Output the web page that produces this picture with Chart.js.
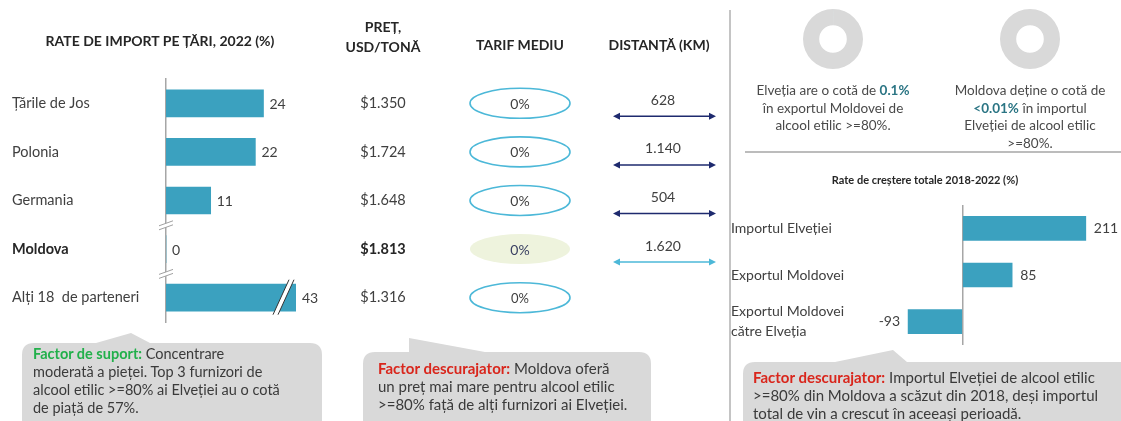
<!DOCTYPE html>
<html><head><meta charset="utf-8">
<script src="https://cdn.jsdelivr.net/npm/chart.js@4.4.0/dist/chart.umd.min.js"></script>
<style>
body{margin:0;background:#fff;}
#wrap{position:relative;width:1121px;height:421px;overflow:hidden;font-family:Lato,"Open Sans",sans-serif;color:#404040;}
canvas{position:absolute;}
.hdr{position:absolute;font-weight:bold;font-size:14px;color:#262626;text-align:center;white-space:nowrap;transform:translateX(-50%);line-height:20px;}
.txt{position:absolute;font-size:13.5px;color:#4a4a4a;text-align:center;white-space:nowrap;transform:translateX(-50%);line-height:17.5px;}
.txt b{color:#2b7584;}
.call{position:absolute;font-size:14px;color:#3a3a3a;white-space:nowrap;line-height:18px;}
.g{color:#22b04b;font-weight:bold;}
.r{color:#d9261c;font-weight:bold;}
</style></head>
<body>
<div id="wrap">
<svg width="1121" height="421" style="position:absolute;left:0;top:0">
  <line x1="730" y1="10" x2="730" y2="421" stroke="#c4c4c4" stroke-width="2"/>
  <line x1="745" y1="152" x2="1121" y2="152" stroke="#a6a6a6" stroke-width="1.5"/>
  <path d="M34 343 L96 343 L131 333 L150 343 L310 343 Q322 343 322 355 L322 430 L22 430 L22 355 Q22 343 34 343 Z" fill="#d9d9d9"/>
  <path d="M375 352 L409 352 L409 338 L485 352 L639 352 Q651 352 651 364 L651 430 L363 430 L363 364 Q363 352 375 352 Z" fill="#d9d9d9"/>
  <path d="M755 362 L835 362 L893 350 L907 362 L1121 362 L1121 430 L743 430 L743 374 Q743 362 755 362 Z" fill="#d9d9d9"/>
</svg>
<canvas id="left" width="730" height="421" style="left:0;top:0"></canvas>
<canvas id="right" width="391" height="421" style="left:730px;top:0"></canvas>
<canvas id="d1" width="60" height="60" style="left:803px;top:9px"></canvas>
<canvas id="d2" width="60" height="60" style="left:1000px;top:9px"></canvas>

<div class="hdr" style="left:160px;top:31px">RATE DE IMPORT PE ȚĂRI, 2022 (%)</div>
<div class="hdr" style="left:383px;top:17px">PREȚ,<br>USD/TONĂ</div>
<div class="hdr" style="left:520px;top:35px">TARIF MEDIU</div>
<div class="hdr" style="left:659px;top:35px">DISTANȚĂ (KM)</div>

<div class="txt" style="left:833px;top:82px">Elveția are o cotă de <b>0.1%</b><br>în exportul Moldovei de<br>alcool etilic &gt;=80%.</div>
<div class="txt" style="left:1030px;top:82px">Moldova deține o cotă de<br><b>&lt;0.01%</b> în importul<br>Elveției de alcool etilic<br>&gt;=80%.</div>
<div class="hdr" style="left:925px;top:170px;font-size:11px">Rate de creștere totale 2018-2022 (%)</div>

<div class="call" style="left:33px;top:345px;font-size:14.5px"><span class="g">Factor de suport:</span> Concentrare<br>moderată a pieței. Top 3 furnizori de<br>alcool etilic &gt;=80% ai Elveției au o cotă<br>de piață de 57%.</div>
<div class="call" style="left:378px;top:359px;font-size:15px"><span class="r">Factor descurajator:</span> Moldova oferă<br>un preț mai mare pentru alcool etilic<br>&gt;=80% față de alți furnizori ai Elveției.</div>
<div class="call" style="left:753px;top:368px;font-size:15px"><span class="r">Factor descurajator:</span> Importul Elveției de alcool etilic<br>&gt;=80% din Moldova a scăzut din 2018, deși importul<br>total de vin a crescut în aceeași perioadă.</div>
</div>

<script>
// ---- data ----
const countries = ['Țările de Jos', 'Polonia', 'Germania', 'Moldova', 'Alți 18  de parteneri'];
const importShare = [24, 22, 11, 0, 43];
const prices = ['$1.350', '$1.724', '$1.648', '$1.813', '$1.316'];
const tariffs = ['0%', '0%', '0%', '0%', '0%'];
const distances = ['628', '1.140', '504', '1.620', null];
const growthLabels = [['Importul Elveției'], ['Exportul Moldovei'], ['Exportul Moldovei', 'către Elveția']];
const growthValues = [211, 85, -93];
const shareCH = [0.1, 99.9];
const shareMD = [0.01, 99.99];

const FONT = 'Lato';
const HL = 3; // Moldova row
const BAR = '#3ba1bf';
const axisBreaks = [2.5, 3.5];

const leftExtras = {
  id: 'leftExtras',
  afterDatasetsDraw(chart) {
    const {ctx, chartArea, scales: {y}} = chart;
    const meta = chart.getDatasetMeta(0);
    ctx.save();
    ctx.textBaseline = 'middle';
    ctx.font = '14px ' + FONT; ctx.fillStyle = '#404040'; ctx.textAlign = 'left';
    meta.data.forEach((bar, i) => {
      const x = Math.min(bar.x, chartArea.right);
      ctx.fillText(String(importShare[i]), x + 6, bar.y + 1);
    });
    meta.data.forEach((bar, i) => {
      if (bar.x > chartArea.right + 1) {
        const bx = chartArea.right - 15, by = bar.y;
        ctx.beginPath();
        ctx.moveTo(bx - 8, by + 17); ctx.lineTo(bx + 8, by - 18); ctx.lineTo(bx + 13, by - 18); ctx.lineTo(bx - 3, by + 17); ctx.closePath();
        ctx.fillStyle = '#fff'; ctx.fill();
        ctx.strokeStyle = '#333'; ctx.lineWidth = 1;
        ctx.beginPath();
        ctx.moveTo(bx - 8, by + 17); ctx.lineTo(bx + 8, by - 18);
        ctx.moveTo(bx - 3, by + 17); ctx.lineTo(bx + 13, by - 18);
        ctx.stroke();
      }
    });
    const ax = chartArea.left;
    axisBreaks.forEach(v => {
      const by = (y.getPixelForValue(Math.floor(v)) + y.getPixelForValue(Math.ceil(v))) / 2;
      ctx.beginPath();
      ctx.moveTo(ax - 7, by + 1); ctx.lineTo(ax + 7, by - 4); ctx.lineTo(ax + 7, by); ctx.lineTo(ax - 7, by + 5); ctx.closePath();
      ctx.fillStyle = '#fff'; ctx.fill();
      ctx.strokeStyle = '#a0a0a0'; ctx.lineWidth = 1;
      ctx.beginPath();
      ctx.moveTo(ax - 7, by + 1); ctx.lineTo(ax + 7, by - 4);
      ctx.moveTo(ax - 7, by + 5); ctx.lineTo(ax + 7, by);
      ctx.stroke();
    });
    countries.forEach((c, i) => {
      const yy = y.getPixelForValue(i);
      ctx.textAlign = 'center';
      ctx.fillStyle = i === HL ? '#262626' : '#404040';
      ctx.font = (i === HL ? 'bold ' : '') + '14.5px ' + FONT;
      ctx.fillText(prices[i], 383, yy);
      ctx.beginPath();
      ctx.ellipse(520, yy, 50, 15, 0, 0, Math.PI * 2);
      if (i === HL) { ctx.fillStyle = '#eef3dd'; ctx.fill(); }
      else { ctx.strokeStyle = '#4cb8d8'; ctx.lineWidth = 1.6; ctx.stroke(); }
      ctx.fillStyle = i === HL ? '#3b4163' : '#404040';
      ctx.font = (i === 4 ? '13px ' : '14px ') + FONT;
      ctx.fillText(tariffs[i], 520, yy + 1);
      if (distances[i] !== null) {
        ctx.font = '14px ' + FONT; ctx.fillStyle = '#404040';
        ctx.fillText(distances[i], 663, yy - 3);
        const col = i === HL ? '#4cb8d8' : '#1e2a6e';
        const ay = yy + 13, x1 = 613, x2 = 716;
        ctx.strokeStyle = col; ctx.fillStyle = col; ctx.lineWidth = 1.5;
        ctx.beginPath(); ctx.moveTo(x1 + 4, ay); ctx.lineTo(x2 - 4, ay); ctx.stroke();
        ctx.beginPath(); ctx.moveTo(x1, ay); ctx.lineTo(x1 + 7, ay - 3.5); ctx.lineTo(x1 + 7, ay + 3.5); ctx.closePath(); ctx.fill();
        ctx.beginPath(); ctx.moveTo(x2, ay); ctx.lineTo(x2 - 7, ay - 3.5); ctx.lineTo(x2 - 7, ay + 3.5); ctx.closePath(); ctx.fill();
      }
    });
    ctx.restore();
  }
};

new Chart(document.getElementById('left'), {
  type: 'bar',
  data: { labels: countries, datasets: [{ data: importShare, backgroundColor: BAR, borderWidth: 0, barThickness: 27, clip: 0 }] },
  options: {
    indexAxis: 'y', responsive: false, animation: false, devicePixelRatio: 1,
    layout: { padding: { left: 12, right: 434, top: 79, bottom: 99 } },
    plugins: { legend: { display: false }, tooltip: { enabled: false } },
    scales: {
      x: { display: false, min: 0, max: 32 },
      y: {
        grid: { display: false },
        border: { color: '#a6a6a6', width: 1.5 },
        ticks: {
          crossAlign: 'far', color: ctx => ctx.index === HL ? '#262626' : '#404040',
          font: ctx => ({ family: FONT, size: 14.5, weight: ctx.index === HL ? 'bold' : 'normal' })
        },
        afterFit(s) { s.width = 154; }
      }
    }
  },
  plugins: [leftExtras]
});

const rightExtras = {
  id: 'rightExtras',
  afterDatasetsDraw(chart) {
    const {ctx} = chart;
    const meta = chart.getDatasetMeta(0);
    ctx.save();
    ctx.font = '14px ' + FONT; ctx.fillStyle = '#404040'; ctx.textBaseline = 'middle';
    meta.data.forEach((bar, i) => {
      const v = growthValues[i];
      if (v >= 0) { ctx.textAlign = 'left'; ctx.fillText(String(v), bar.x + 8, bar.y); }
      else { ctx.textAlign = 'right'; ctx.fillText(String(v), bar.x - 8, bar.y); }
    });
    ctx.restore();
  }
};

new Chart(document.getElementById('right'), {
  type: 'bar',
  data: { labels: growthLabels, datasets: [{ data: growthValues, backgroundColor: BAR, borderWidth: 0, barThickness: 24 }] },
  options: {
    indexAxis: 'y', responsive: false, animation: false, devicePixelRatio: 1,
    layout: { padding: { left: 1, right: 27, top: 205, bottom: 76 } },
    plugins: { legend: { display: false }, tooltip: { enabled: false } },
    scales: {
      x: {
        min: -100, max: 225,
        ticks: { display: false, stepSize: 25 },
        border: { display: false },
        grid: { drawTicks: false, lineWidth: 1.5, color: ctx => (ctx.tick && ctx.tick.value === 0) ? '#a6a6a6' : 'rgba(0,0,0,0)' }
      },
      y: {
        grid: { display: false }, border: { display: false },
        ticks: { crossAlign: 'far', color: '#404040', font: { family: FONT, size: 14, lineHeight: 1.45 } },
        afterFit(s) { s.width = 173; }
      }
    }
  },
  plugins: [rightExtras]
});

function donut(id, data) {
  new Chart(document.getElementById(id), {
    type: 'doughnut',
    data: { datasets: [{ data: data, backgroundColor: ['#2b7584', '#d9d9d9'], borderWidth: 0 }] },
    options: { responsive: false, animation: false, devicePixelRatio: 1, cutout: '46%',
      plugins: { legend: { display: false }, tooltip: { enabled: false } } }
  });
}
donut('d1', shareCH);
donut('d2', shareMD);
</script>
</body></html>
